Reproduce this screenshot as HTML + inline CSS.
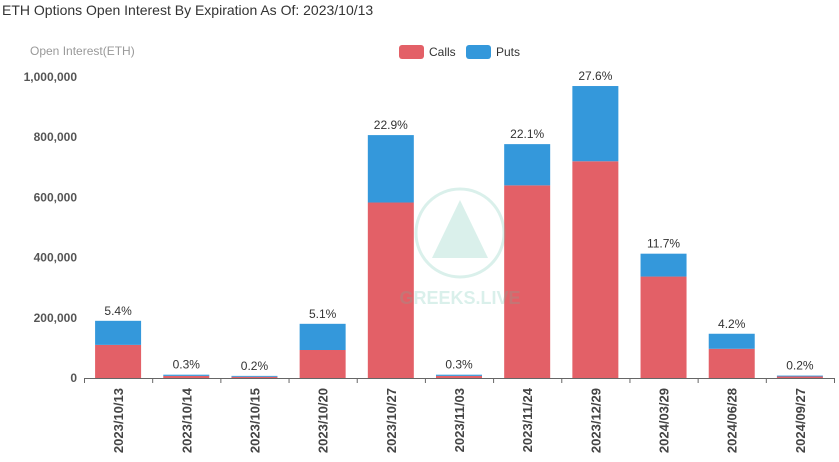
<!DOCTYPE html>
<html><head><meta charset="utf-8"><style>
body{margin:0;background:#fff;font-family:"Liberation Sans",Arial,sans-serif;}
#title{position:absolute;left:2px;top:2px;font-size:14px;color:#333;}
</style></head><body>
<div id="title">ETH Options Open Interest By Expiration As Of: 2023/10/13</div>
<svg id="chart" width="839" height="462" style="position:absolute;left:0;top:0"></svg>
<script>
const categories=["2023/10/13","2023/10/14","2023/10/15","2023/10/20","2023/10/27","2023/11/03","2023/11/24","2023/12/29","2024/03/29","2024/06/28","2024/09/27"];
const calls=[110000,7000,4000,93000,583000,7000,640000,720000,337000,97000,5000];
const puts=[80000,4000,3000,87000,224000,4000,137000,250000,76000,50000,3000];
const pctLabels=["5.4%","0.3%","0.2%","5.1%","22.9%","0.3%","22.1%","27.6%","11.7%","4.2%","0.2%"];
const yTicks=[0,200000,400000,600000,800000,1000000];
const NS="http://www.w3.org/2000/svg";
const svg=document.getElementById('chart');
const x0=84,x1=834,yBase=378,yTop=77,yMax=1000000;
const band=(x1-x0)/categories.length;
const y=v=>yBase-(v/yMax)*(yBase-yTop);
const xc=i=>x0+band*(i+0.5);
function mk(t,a,p){const e=document.createElementNS(NS,t);for(const k in a)e.setAttribute(k,a[k]);(p||svg).appendChild(e);return e;}
// y axis
const yl=mk('text',{x:30,y:55,'font-size':12,fill:'#999'});yl.textContent='Open Interest(ETH)';


yTicks.forEach(v=>{const t=mk('text',{x:77,y:y(v)+4,'text-anchor':'end','font-size':12,'font-weight':'bold',fill:'#555'});t.textContent=v.toLocaleString('en-US');

});
mk('line',{x1:x0,x2:x1,y1:yBase+0.5,y2:yBase+0.5,stroke:'#666'});
categories.forEach((c,i)=>{
 const xx=x0+band*i;
 mk('line',{x1:xx+0.5,x2:xx+0.5,y1:yBase,y2:yBase+5,stroke:'#666'});
 const bw=46,bx=xc(i)-bw/2;
 const r1=mk('rect',{x:bx,y:y(calls[i]),width:bw,height:yBase-y(calls[i]),fill:'#e36067'});
 
 
 const r2=mk('rect',{x:bx,y:y(calls[i]+puts[i]),width:bw,height:y(calls[i])-y(calls[i]+puts[i]),fill:'#3498db'});
 
 
 const p=mk('text',{x:xc(i),y:y(calls[i]+puts[i])-6,'text-anchor':'middle','font-size':12,fill:'#333'});p.textContent=pctLabels[i];
 
 
 const l=mk('text',{transform:`translate(${xc(i)+5},${yBase+10}) rotate(-90)`,'text-anchor':'end','font-size':13,'font-weight':'bold',fill:'#444'});l.textContent=c;
 
 
});
mk('line',{x1:x1+0.5,x2:x1+0.5,y1:yBase,y2:yBase+5,stroke:'#666'});
// watermark (on top)
const wm=mk('g',{opacity:0.22});


mk('circle',{cx:460,cy:233,r:44,fill:'none',stroke:'#5cbfa8','stroke-width':3},wm);
mk('polygon',{points:'460,200 488,258 432,258',fill:'#5cbfa8'},wm);
const wt=mk('text',{x:460,y:304,'text-anchor':'middle','font-size':18,'font-weight':'bold',fill:'#5cbfa8'},wm);wt.textContent='GREEKS.LIVE';
// legend
const lg=mk('g',{});


const e1=mk('g',{},lg);


mk('rect',{x:399,y:45,width:25,height:14,rx:3,fill:'#e36067'},e1);
const t1=mk('text',{x:429,y:56,'font-size':12,fill:'#333'},e1);t1.textContent='Calls';
const e2=mk('g',{},lg);


mk('rect',{x:466,y:45,width:25,height:14,rx:3,fill:'#3498db'},e2);
const t2=mk('text',{x:496,y:56,'font-size':12,fill:'#333'},e2);t2.textContent='Puts';
</script>
</body></html>
